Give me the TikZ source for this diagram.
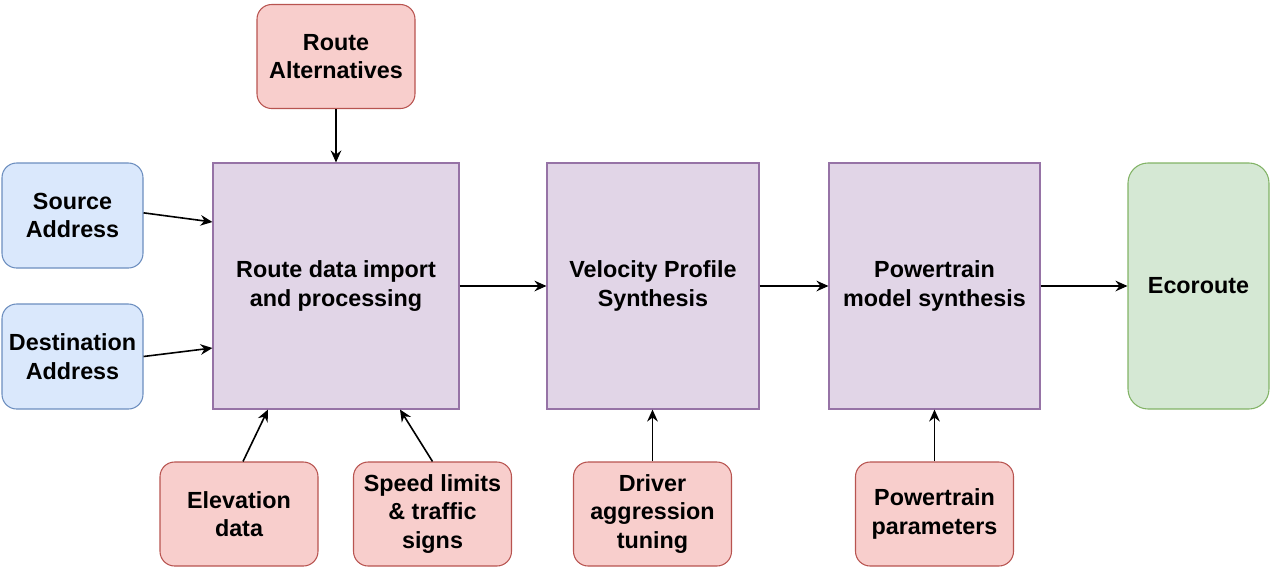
\documentclass[tikz,border=0pt]{standalone}
\usepackage{fontspec}
\setmainfont{Liberation Sans}
\usetikzlibrary{arrows.meta,calc}
\definecolor{inblue}{HTML}{DAE8FC}
\definecolor{inblueline}{HTML}{6C8EBF}
\definecolor{parred}{HTML}{F8CECC}
\definecolor{parredline}{HTML}{B85450}
\definecolor{procpurple}{HTML}{E1D5E7}
\definecolor{procpurpleline}{HTML}{9673A6}
\definecolor{outgreen}{HTML}{D5E8D4}
\definecolor{outgreenline}{HTML}{82B366}
\tikzset{
  blk/.style={line width=0.8pt, align=center, inner sep=0pt,
    font=\bfseries\fontsize{17.5}{21.5}\selectfont},
  inbox/.style={blk, draw=inblueline, fill=inblue, rounded corners=11pt,
    minimum width=105.75pt, minimum height=78.75pt},
  parbox/.style={blk, draw=parredline, fill=parred, rounded corners=11pt,
    minimum width=118.5pt, minimum height=78pt},
  procbox/.style={blk, draw=procpurpleline, fill=procpurple,
    minimum height=184.5pt},
  outbox/.style={blk, draw=outgreenline, fill=outgreen, rounded corners=15pt,
    minimum width=105.75pt, minimum height=184.5pt},
  flow/.style={line width=1.2pt, -{Stealth[length=9pt,width=8pt,inset=3pt]}},
}
\begin{document}
\begin{tikzpicture}[x=0.75pt,y=-0.75pt]
  \useasboundingbox (0,0) rectangle (1272,569);
  % main chain
  \node[procbox, minimum width=184.5pt] (imp) at (336,286) {Route data import\\and processing};
  \node[procbox, minimum width=159pt] (vel) at (653,286) {Velocity Profile\\Synthesis};
  \node[procbox, minimum width=158.25pt] (pwt) at (934.5,286) {Powertrain\\model synthesis};
  \node[outbox] (eco) at (1198.5,286) {Ecoroute};
  % inputs
  \node[inbox] (src) at (72.5,215.5) {Source\\Address};
  \node[inbox] (dst) at (72.5,356.5) {Destination\\Address};
  \node[parbox] (alt) at (336,56.5) {Route\\Alternatives};
  \node[parbox] (elev) at (239,514) {Elevation\\data};
  \node[parbox] (spd) at (432.5,514) {Speed limits\\\& traffic\\signs};
  \node[parbox] (drv) at (652.5,514) {Driver\\aggression\\tuning};
  \node[parbox] (ppar) at (934.5,514) {Powertrain\\parameters};

  \draw[flow] (imp) -- (vel);
  \draw[flow] (vel) -- (pwt);
  \draw[flow] (pwt) -- (eco);
  \draw[flow] ([yshift=2pt]src.east) -- ([yshift=48pt]imp.west);
  \draw[flow] (dst.east) -- ([yshift=-46.5pt]imp.west);
  \draw[flow] (alt) -- (imp);
  \draw[flow] ([xshift=3pt]elev.north) -- ([xshift=-51pt]imp.south);
  \draw[flow] (spd.north) -- ([xshift=48pt]imp.south);
  \draw[flow] (drv) -- (drv |- vel.south);
  \draw[flow] (ppar) -- (pwt);
\end{tikzpicture}
\end{document}
